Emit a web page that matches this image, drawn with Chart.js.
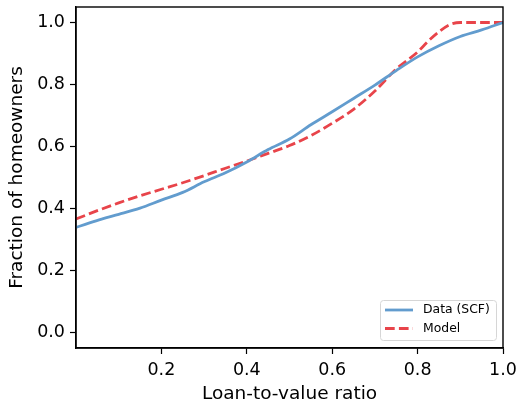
<!DOCTYPE html>
<html>
<head>
<meta charset="utf-8">
<script src="https://cdn.jsdelivr.net/npm/chart.js@4.4.1/dist/chart.umd.min.js"></script>
<style>
  html, body { margin: 0; padding: 0; background: #fff; }
  #wrap { width: 519px; height: 402px; position: relative; }
</style>
</head>
<body>
<div id="wrap"><canvas id="c" width="519" height="402"></canvas></div>
<script>
// ---- data ----
const dataX  = [0.00, 0.03, 0.06, 0.10, 0.15, 0.20, 0.25, 0.30, 0.35, 0.40, 0.45, 0.50, 0.55, 0.60, 0.65, 0.70, 0.75, 0.80, 0.85, 0.90, 0.95, 1.00];
const dataY  = [0.339, 0.353, 0.366, 0.381, 0.401, 0.427, 0.452, 0.486, 0.515, 0.550, 0.590, 0.624, 0.670, 0.712, 0.755, 0.798, 0.845, 0.889, 0.925, 0.955, 0.976, 1.000];
const modelX = [0.00, 0.05, 0.10, 0.15, 0.20, 0.25, 0.30, 0.35, 0.40, 0.45, 0.50, 0.55, 0.60, 0.65, 0.70, 0.75, 0.80, 0.825, 0.85, 0.875, 0.90, 0.95, 1.00];
const modelY = [0.366, 0.393, 0.418, 0.441, 0.462, 0.483, 0.506, 0.530, 0.553, 0.578, 0.603, 0.635, 0.675, 0.720, 0.779, 0.850, 0.905, 0.940, 0.970, 0.993, 1.000, 1.000, 1.000];
const xTicks = [0.2, 0.4, 0.6, 0.8, 1.0];
const yTicks = [0.0, 0.2, 0.4, 0.6, 0.8, 1.0];
const seriesNames = ['Data (SCF)', 'Model'];
const xTitle = 'Loan-to-value ratio';
const yTitle = 'Fraction of homeowners';

const BLUE = 'rgb(98,156,206)';
const RED = 'rgb(232,68,74)';
const FONT = 'DejaVu Sans';

const toPts = (xs, ys) => xs.map((x, i) => ({x: x, y: ys[i]}));

const framePlugin = {
  id: 'frame',
  afterDatasetsDraw(chart) {
    const a = chart.chartArea, ctx = chart.ctx;
    ctx.save();
    ctx.strokeStyle = '#000';
    ctx.lineWidth = 1.4;
    ctx.strokeRect(a.left, a.top, a.right - a.left, a.bottom - a.top);
    ctx.restore();
  },
  afterDraw(chart) {
    const ctx = chart.ctx;
    const bx = 380, by = 300, bw = 116, bh = 40;
    ctx.save();
    ctx.beginPath();
    if (ctx.roundRect) ctx.roundRect(bx + 0.5, by + 0.5, bw, bh, 3); else ctx.rect(bx + 0.5, by + 0.5, bw, bh);
    ctx.fillStyle = 'rgba(255,255,255,0.85)';
    ctx.fill();
    ctx.strokeStyle = '#d6d6d6';
    ctx.lineWidth = 1;
    ctx.stroke();
    ctx.lineWidth = 2.8;
    ctx.strokeStyle = BLUE;
    ctx.beginPath(); ctx.moveTo(385, 310); ctx.lineTo(413, 310); ctx.stroke();
    ctx.strokeStyle = RED;
    ctx.setLineDash([9.7, 4.2]);
    ctx.beginPath(); ctx.moveTo(385, 328.5); ctx.lineTo(413, 328.5); ctx.stroke();
    ctx.setLineDash([]);
    ctx.fillStyle = '#000';
    ctx.font = '12.4px "' + FONT + '"';
    ctx.textBaseline = 'middle';
    ctx.textAlign = 'left';
    ctx.fillText(seriesNames[0], 423, 310);
    ctx.fillText(seriesNames[1], 423, 328.5);
    ctx.restore();
  }
};

new Chart(document.getElementById('c'), {
  type: 'line',
  data: {
    datasets: [
      {
        label: seriesNames[0],
        data: toPts(dataX, dataY),
        borderColor: BLUE,
        borderWidth: 2.8,
        pointRadius: 0,
        fill: false,
        cubicInterpolationMode: 'monotone'
      },
      {
        label: seriesNames[1],
        data: toPts(modelX, modelY),
        borderColor: RED,
        borderWidth: 2.8,
        borderDash: [9.7, 4.2],
        pointRadius: 0,
        fill: false,
        cubicInterpolationMode: 'monotone'
      }
    ]
  },
  options: {
    responsive: false,
    animation: false,
    devicePixelRatio: 1,
    layout: { padding: { left: 0, top: 7, right: 16, bottom: 0 } },
    plugins: { legend: { display: false }, tooltip: { enabled: false } },
    scales: {
      x: {
        type: 'linear',
        min: 0, max: 1,
        afterBuildTicks: (s) => { s.ticks = xTicks.map(v => ({value: v})); },
        afterFit: (s) => { s.height = 54; s.paddingLeft = 0; s.paddingRight = 0; },
        grid: { drawOnChartArea: false, drawTicks: true, tickLength: 6, tickColor: '#000', tickWidth: 1.2 },
        border: { display: true, color: '#000', width: 1.4 },
        ticks: {
          color: '#000', padding: 6, maxRotation: 0, autoSkip: false,
          font: { family: FONT, size: 17.5 },
          callback: (v) => Number(v).toFixed(1)
        },
        title: {
          display: true, text: xTitle, color: '#000',
          font: { family: FONT, size: 18.5 }, padding: { top: 0, bottom: -3.5 }
        }
      },
      y: {
        type: 'linear',
        min: -0.05, max: 1.05,
        afterBuildTicks: (s) => { s.ticks = yTicks.map(v => ({value: v})); },
        afterFit: (s) => { s.width = 76; s.paddingTop = 0; s.paddingBottom = 0; },
        grid: { drawOnChartArea: false, drawTicks: true, tickLength: 6, tickColor: '#000', tickWidth: 1.2 },
        border: { display: true, color: '#000', width: 1.4 },
        ticks: {
          color: '#000', padding: 5, autoSkip: false,
          font: { family: FONT, size: 17.5 },
          callback: (v) => Number(v).toFixed(1)
        },
        title: {
          display: true, text: yTitle, color: '#000',
          font: { family: FONT, size: 18.5 }, padding: { top: 6, bottom: 0 }
        }
      }
    }
  },
  plugins: [framePlugin]
});
</script>
</body>
</html>
